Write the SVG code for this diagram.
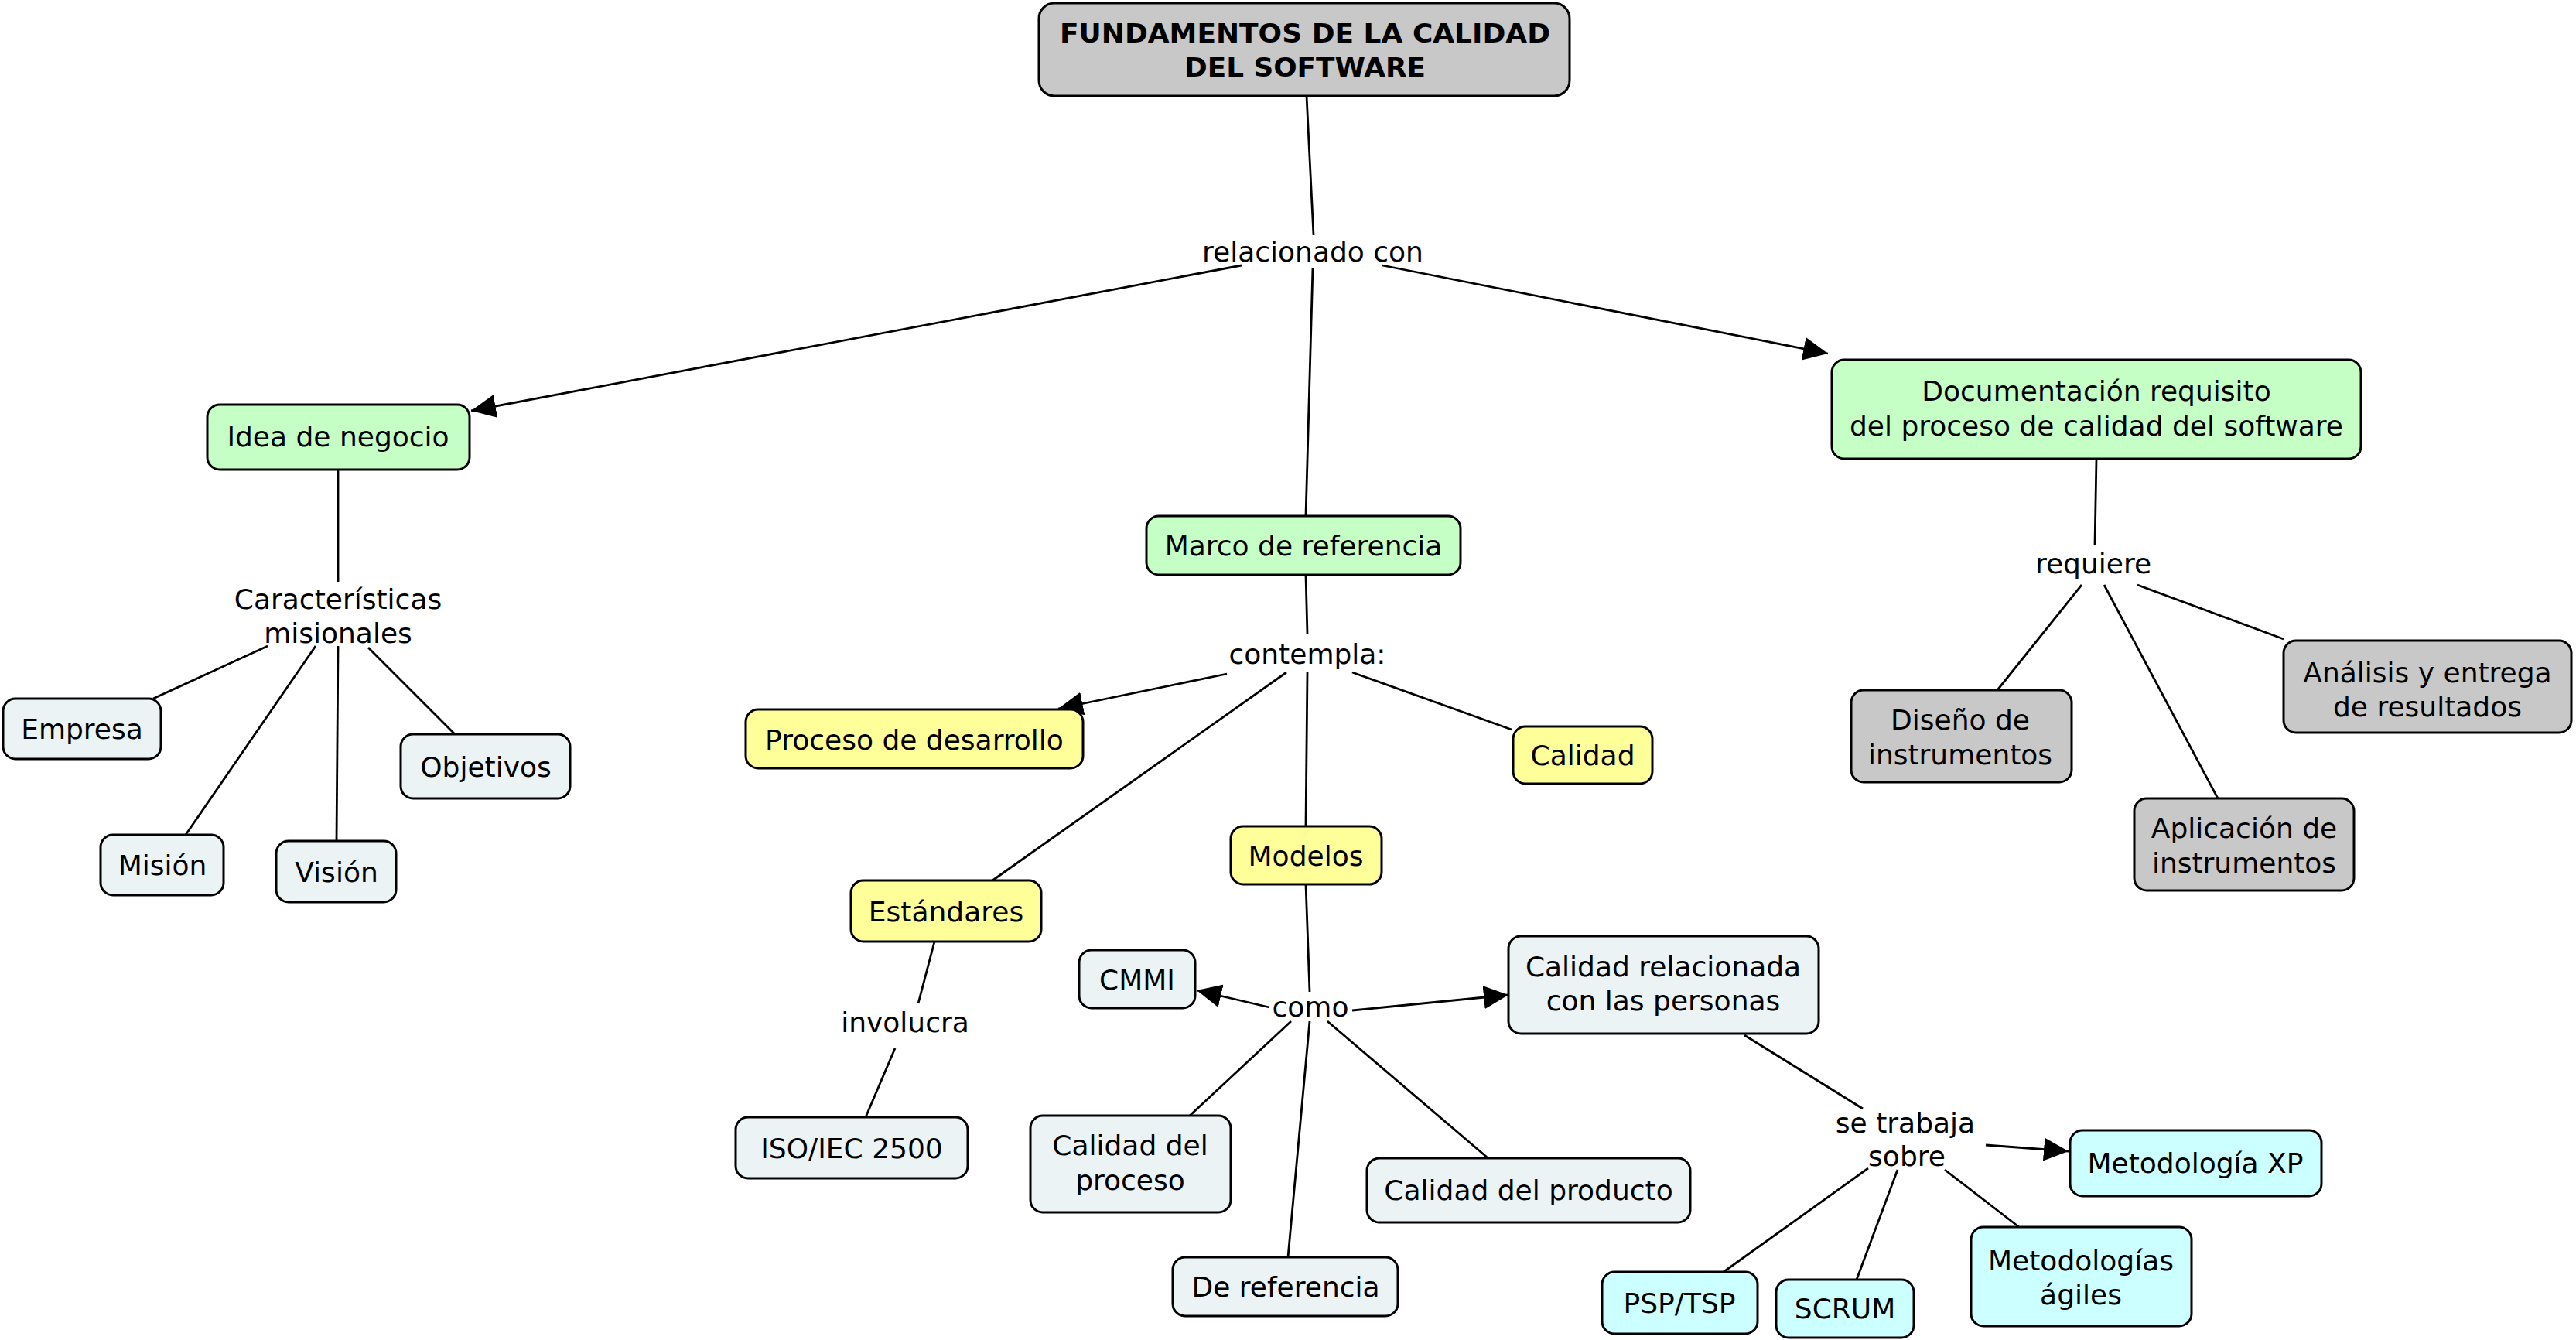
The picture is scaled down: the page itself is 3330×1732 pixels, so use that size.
<svg xmlns="http://www.w3.org/2000/svg" width="3330" height="1732" viewBox="0 0 3330 1732">
  <style>
    .bg { fill: #ffffff; }
    .box { stroke: #000; stroke-width: 3; }
    .root { fill: #c8c8c8; }
    .green { fill: #c6ffc6; }
    .yellow { fill: #ffff99; }
    .pale { fill: #ebf3f5; }
    .cyan { fill: #ccffff; }
    .grey { fill: #c8c8c8; }
    text { font-family: "DejaVu Sans", Verdana, sans-serif; font-size: 36px; fill: #000; text-anchor: middle; }
    .title { font-weight: bold; font-size: 34px; }
    #connectors line { stroke: #000; stroke-width: 2.8; fill: none; }
    #connectors line.arrow { marker-end: url(#arrowhead); }
  </style>
  <defs>
    <marker id="arrowhead" viewBox="0 0 32 30" refX="32" refY="15" markerWidth="32" markerHeight="30" markerUnits="userSpaceOnUse" orient="auto">
      <path d="M0,0 L32,15 L0,30 z" fill="#000"/>
    </marker>
  </defs>
  <rect class="bg" x="0" y="0" width="3330" height="1732"/>

  <!-- links between concepts and linking phrases -->
  <g id="connectors">
    <line x1="1689" y1="124" x2="1698" y2="304"/>
    <line class="arrow" x1="1605" y1="343" x2="609" y2="531"/>
    <line x1="1697" y1="346" x2="1688" y2="667"/>
    <line class="arrow" x1="1787" y1="343" x2="2363" y2="457"/>

    <line x1="437" y1="607" x2="437" y2="752"/>
    <line x1="346" y1="835" x2="198" y2="903"/>
    <line x1="408" y1="835" x2="240" y2="1079"/>
    <line x1="437" y1="835" x2="435" y2="1087"/>
    <line x1="476" y1="837" x2="588" y2="949"/>

    <line x1="1688" y1="743" x2="1690" y2="820"/>
    <line class="arrow" x1="1586" y1="871" x2="1368" y2="916"/>
    <line x1="1663" y1="869" x2="1283" y2="1138"/>
    <line x1="1690" y1="869" x2="1688" y2="1068"/>
    <line x1="1748" y1="869" x2="1954" y2="943"/>

    <line x1="1208" y1="1217" x2="1187" y2="1297"/>
    <line x1="1157" y1="1355" x2="1119" y2="1444"/>

    <line x1="1688" y1="1143" x2="1693" y2="1282"/>
    <line class="arrow" x1="1641" y1="1302" x2="1547" y2="1280"/>
    <line class="arrow" x1="1748" y1="1306" x2="1950" y2="1286"/>
    <line x1="1669" y1="1320" x2="1538" y2="1442"/>
    <line x1="1693" y1="1320" x2="1665" y2="1625"/>
    <line x1="1716" y1="1320" x2="1926" y2="1499"/>

    <line x1="2255" y1="1338" x2="2408" y2="1433"/>
    <line class="arrow" x1="2567" y1="1480" x2="2674" y2="1488"/>
    <line x1="2415" y1="1510" x2="2228" y2="1644"/>
    <line x1="2453" y1="1512" x2="2400" y2="1654"/>
    <line x1="2514" y1="1512" x2="2610" y2="1586"/>

    <line x1="2710" y1="593" x2="2708" y2="705"/>
    <line x1="2691" y1="756" x2="2582" y2="892"/>
    <line x1="2720" y1="756" x2="2867" y2="1032"/>
    <line x1="2763" y1="756" x2="2952" y2="826"/>
  </g>

  <!-- linking phrases -->
  <g id="phrase-relacionado"><text x="1697" y="338">relacionado con</text></g>
  <g id="phrase-caracteristicas"><text x="437" y="787">Características</text><text x="437" y="831">misionales</text></g>
  <g id="phrase-contempla"><text x="1690" y="858">contempla:</text></g>
  <g id="phrase-involucra"><text x="1170" y="1334">involucra</text></g>
  <g id="phrase-como"><text x="1694" y="1314">como</text></g>
  <g id="phrase-setrabaja"><text x="2463" y="1464">se trabaja</text><text x="2465" y="1507">sobre</text></g>
  <g id="phrase-requiere"><text x="2706" y="741">requiere</text></g>

  <!-- concepts -->
  <g id="root">
    <rect class="box root" x="1343" y="4" width="686" height="120" rx="20"/>
    <text class="title" x="1687" y="55" textLength="634" lengthAdjust="spacingAndGlyphs">FUNDAMENTOS DE LA CALIDAD</text>
    <text class="title" x="1687" y="99" textLength="312" lengthAdjust="spacingAndGlyphs">DEL SOFTWARE</text>
  </g>

  <g id="idea-negocio">
    <rect class="box green" x="268" y="523" width="339" height="84" rx="16"/>
    <text x="437" y="577">Idea de negocio</text>
  </g>
  <g id="empresa">
    <rect class="box pale" x="4" y="903" width="204" height="78" rx="16"/>
    <text x="106" y="955">Empresa</text>
  </g>
  <g id="mision">
    <rect class="box pale" x="130" y="1079" width="159" height="78" rx="16"/>
    <text x="210" y="1131">Misión</text>
  </g>
  <g id="vision">
    <rect class="box pale" x="357" y="1087" width="155" height="79" rx="16"/>
    <text x="435" y="1140">Visión</text>
  </g>
  <g id="objetivos">
    <rect class="box pale" x="518" y="949" width="219" height="83" rx="16"/>
    <text x="628" y="1004">Objetivos</text>
  </g>

  <g id="marco-referencia">
    <rect class="box green" x="1482" y="667" width="406" height="76" rx="16"/>
    <text x="1685" y="718">Marco de referencia</text>
  </g>
  <g id="proceso-desarrollo">
    <rect class="box yellow" x="964" y="917" width="436" height="76" rx="16"/>
    <text x="1182" y="969">Proceso de desarrollo</text>
  </g>
  <g id="calidad">
    <rect class="box yellow" x="1956" y="939" width="180" height="74" rx="16"/>
    <text x="2046" y="989">Calidad</text>
  </g>
  <g id="modelos">
    <rect class="box yellow" x="1591" y="1068" width="195" height="75" rx="16"/>
    <text x="1688" y="1119">Modelos</text>
  </g>
  <g id="estandares">
    <rect class="box yellow" x="1100" y="1138" width="246" height="79" rx="16"/>
    <text x="1223" y="1191">Estándares</text>
  </g>
  <g id="iso-iec">
    <rect class="box pale" x="951" y="1444" width="300" height="79" rx="16"/>
    <text x="1101" y="1497">ISO/IEC 2500</text>
  </g>
  <g id="cmmi">
    <rect class="box pale" x="1395" y="1228" width="150" height="75" rx="16"/>
    <text x="1470" y="1279">CMMI</text>
  </g>
  <g id="calidad-personas">
    <rect class="box pale" x="1950" y="1210" width="401" height="126" rx="16"/>
    <text x="2150" y="1262">Calidad relacionada</text>
    <text x="2150" y="1306">con las personas</text>
  </g>
  <g id="calidad-proceso">
    <rect class="box pale" x="1332" y="1442" width="259" height="125" rx="16"/>
    <text x="1461" y="1493">Calidad del</text>
    <text x="1461" y="1538">proceso</text>
  </g>
  <g id="calidad-producto">
    <rect class="box pale" x="1767" y="1497" width="418" height="83" rx="16"/>
    <text x="1976" y="1551">Calidad del producto</text>
  </g>
  <g id="de-referencia">
    <rect class="box pale" x="1516" y="1625" width="291" height="76" rx="16"/>
    <text x="1662" y="1676">De referencia</text>
  </g>

  <g id="metodologia-xp">
    <rect class="box cyan" x="2676" y="1461" width="325" height="85" rx="16"/>
    <text x="2838" y="1516">Metodología XP</text>
  </g>
  <g id="psp-tsp">
    <rect class="box cyan" x="2071" y="1644" width="201" height="80" rx="16"/>
    <text x="2171" y="1697">PSP/TSP</text>
  </g>
  <g id="scrum">
    <rect class="box cyan" x="2296" y="1654" width="178" height="75" rx="16"/>
    <text x="2385" y="1704">SCRUM</text>
  </g>
  <g id="metodologias-agiles">
    <rect class="box cyan" x="2548" y="1586" width="285" height="128" rx="16"/>
    <text x="2690" y="1642">Metodologías</text>
    <text x="2690" y="1686">ágiles</text>
  </g>

  <g id="documentacion">
    <rect class="box green" x="2368" y="465" width="684" height="128" rx="16"/>
    <text x="2710" y="518">Documentación requisito</text>
    <text x="2710" y="563">del proceso de calidad del software</text>
  </g>
  <g id="diseno-instrumentos">
    <rect class="box grey" x="2393" y="892" width="285" height="119" rx="16"/>
    <text x="2534" y="943">Diseño de</text>
    <text x="2534" y="988">instrumentos</text>
  </g>
  <g id="aplicacion-instrumentos">
    <rect class="box grey" x="2759" y="1032" width="284" height="119" rx="16"/>
    <text x="2901" y="1083">Aplicación de</text>
    <text x="2901" y="1128">instrumentos</text>
  </g>
  <g id="analisis-resultados">
    <rect class="box grey" x="2952" y="828" width="372" height="119" rx="16"/>
    <text x="3138" y="882">Análisis y entrega</text>
    <text x="3138" y="926">de resultados</text>
  </g>
</svg>
